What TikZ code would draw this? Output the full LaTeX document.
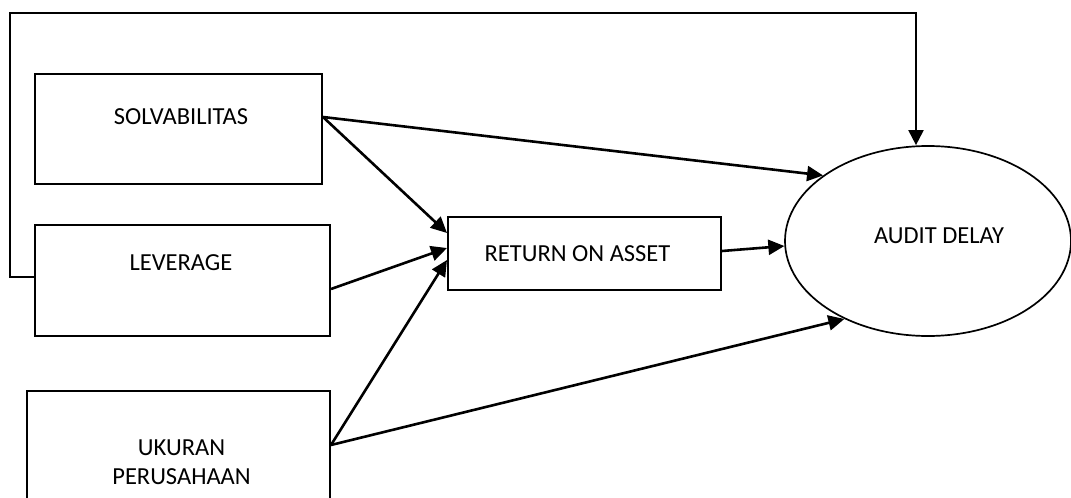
\documentclass[tikz,border=0pt]{standalone}
\usepackage{fontspec}
\setmainfont{Carlito}
\usetikzlibrary{arrows.meta,shapes.geometric}
\begin{document}
\begin{tikzpicture}[x=1pt,y=-1pt,
  box/.style={draw, line width=2pt, rectangle, inner sep=0pt},
  oval/.style={draw, line width=1.7pt, ellipse, inner sep=0pt},
  txt/.style={font=\fontsize{24.5}{29}\selectfont, anchor=base, inner sep=0pt},
  arr/.style={line width=2.6pt, -{Triangle[length=16pt,width=15pt]}},
  fb/.style={line width=2pt, -{Triangle[length=15pt,width=15pt]}}]
\useasboundingbox (0,0) rectangle (1071,498);
% boxes
\node[box, minimum width=287pt, minimum height=110pt] (solv) at (178.5,129) {};
\node[box, minimum width=295pt, minimum height=111pt] (lev) at (182.5,280.5) {};
\node[box, minimum width=303pt, minimum height=130pt] (uk) at (178.5,456) {};
\node[box, minimum width=273pt, minimum height=73pt] (roa) at (584.5,253.5) {};
\node[oval, minimum width=286pt, minimum height=190pt] (ad) at (928,241) {};
% texts
\node[txt] (tsolv) at (181,124) {SOLVABILITAS};
\node[txt] (tlev) at (181,270.5) {LEVERAGE};
\node[txt] (tuk1) at (181.5,455) {UKURAN};
\node[txt] (tuk2) at (181.5,484) {PERUSAHAAN};
\node[txt] (troa) at (577.5,261.5) {RETURN ON ASSET};
\node[txt] (tad) at (939,243) {AUDIT DELAY};
% feedback line
\coordinate (fbl) at (10,13);
\coordinate (fbr) at (916,13);
\draw[fb] ([yshift=3.5pt]lev.west) -| (fbl) -- (fbr) -- (fbr |- ad.north);
% arrows
\draw[arr] ([yshift=12pt]solv.east) -- ([yshift=20.5pt]roa.west);
\draw[arr] ([yshift=12pt]solv.east) -- (ad.148);
\draw[arr] ([yshift=-8.5pt]lev.east) -- ([yshift=5.5pt]roa.west);
\draw[arr] ([yshift=11pt]uk.east) -- ([yshift=-6.5pt]roa.west);
\draw[arr] ([yshift=11pt]uk.east) -- (ad.223);
\draw[arr] ([yshift=2.5pt]roa.east) -- (ad.182);
\end{tikzpicture}
\end{document}
